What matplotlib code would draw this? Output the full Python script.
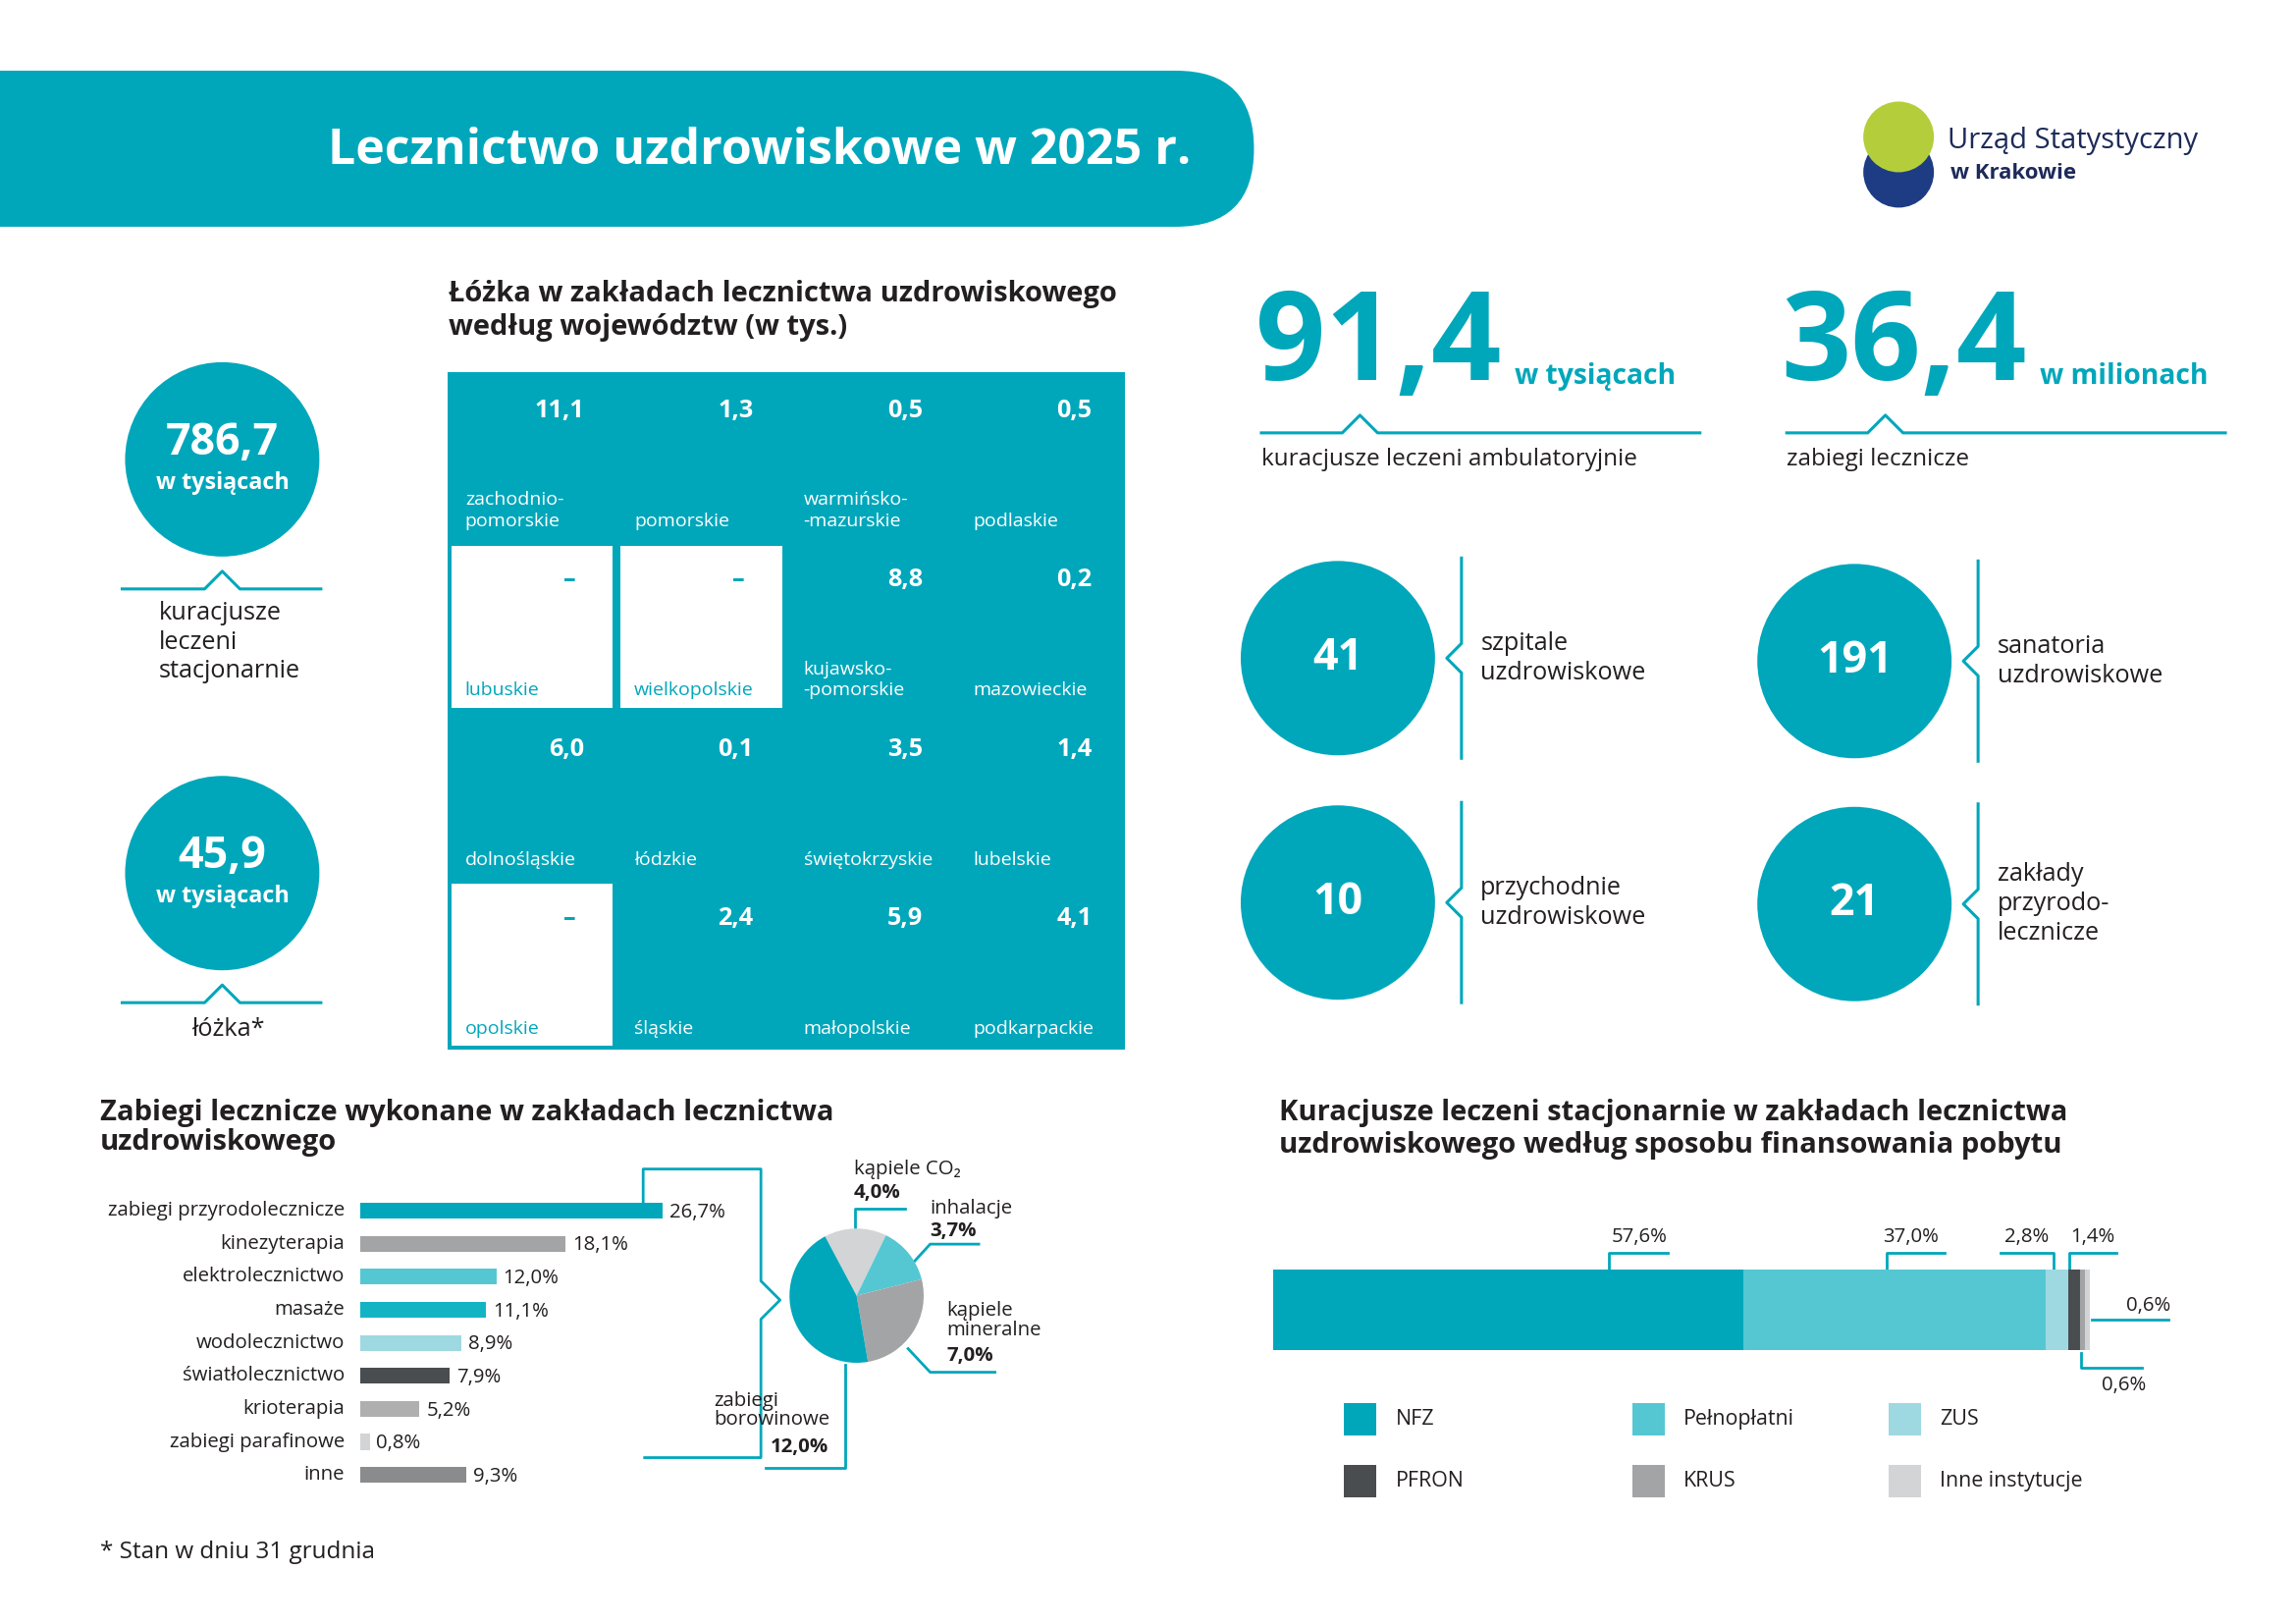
import matplotlib
matplotlib.use("Agg")
import matplotlib.pyplot as plt
from matplotlib.patches import Circle, Rectangle, FancyBboxPatch
import numpy as np

plt.rcParams['font.family'] = ['Open Sans', 'DejaVu Sans']

TEAL = '#00A7BB'; LT = '#55C7D3'; LLT = '#9ED9E2'
DG = '#4A4D4F'; G = '#A3A4A6'; LG = '#D3D4D5'; TXT = '#231F20'
S = 1.4  # font scale

# ---- data ----
tile_names = [["zachodnio-\npomorskie", "pomorskie", "warmińsko-\n-mazurskie", "podlaskie"],
              ["lubuskie", "wielkopolskie", "kujawsko-\n-pomorskie", "mazowieckie"],
              ["dolnośląskie", "łódzkie", "świętokrzyskie", "lubelskie"],
              ["opolskie", "śląskie", "małopolskie", "podkarpackie"]]
tile_values = [["11,1", "1,3", "0,5", "0,5"],
               ["–", "–", "8,8", "0,2"],
               ["6,0", "0,1", "3,5", "1,4"],
               ["–", "2,4", "5,9", "4,1"]]

bar_labels = ["zabiegi przyrodolecznicze", "kinezyterapia", "elektrolecznictwo", "masaże",
              "wodolecznictwo", "światłolecznictwo", "krioterapia", "zabiegi parafinowe", "inne"]
bar_values = [26.7, 18.1, 12.0, 11.1, 8.9, 7.9, 5.2, 0.8, 9.3]
bar_colors = [TEAL, G, LT, '#12B4C4', LLT, DG, '#AFAFB0', LG, '#8A8B8C']

pie_labels = ["kąpiele CO₂", "inhalacje", "kąpiele\nmineralne", "zabiegi\nborowinowe"]
pie_values = [4.0, 3.7, 7.0, 12.0]
pie_colors = [LG, LT, G, TEAL]

fin_labels = ["NFZ", "Pełnopłatni", "ZUS", "PFRON", "KRUS", "Inne instytucje"]
fin_values = [57.6, 37.0, 2.8, 1.4, 0.6, 0.6]
fin_colors = [TEAL, LT, LLT, DG, G, LG]

fig = plt.figure(figsize=(23.39, 16.54), dpi=100)
ax = fig.add_axes([0, 0, 1, 1])
ax.set_xlim(0, 1560); ax.set_ylim(1103, 0); ax.axis('off')

# title banner
ax.add_patch(FancyBboxPatch((-60, 48), 912, 106, boxstyle="round,pad=0,rounding_size=53",
                            fc=TEAL, ec='none'))
ax.text(516, 103, "Lecznictwo uzdrowiskowe w 2025 r.", color='white', fontsize=36,
        fontweight='bold', ha='center', va='center', family=['Open Sans', 'DejaVu Sans'])
# logo
ax.add_patch(Circle((1290, 117), 24, fc='#1D3C84', ec='none'))
ax.add_patch(Circle((1290, 93), 24, fc='#B3CE3A', ec='none'))
ax.text(1323, 96, "Urząd Statystyczny", fontsize=21, color='#1D2A5A', va='center')
ax.text(1325, 118, "w Krakowie", fontsize=16, color='#1D2A5A', va='center', fontweight='bold')

def bump_line(x0, x1, y, xn, up=True):
    d = -12 if up else 12
    ax.plot([x0, xn - 12, xn, xn + 12, x1], [y, y, y + d, y, y], color=TEAL, lw=2.2)

# left circles
for cy, val in [(312, "786,7"), (593, "45,9")]:
    ax.add_patch(Circle((151, cy), 66, fc=TEAL, ec='none'))
    ax.text(151, cy - 11, val, color='white', fontsize=23 * S, fontweight='bold', ha='center', va='center')
    ax.text(151, cy + 16, "w tysiącach", color='white', fontsize=12 * S, fontweight='bold', ha='center', va='center')
    bump_line(83, 218, cy + 88, 151)
ax.text(108, 408, "kuracjusze\nleczeni\nstacjonarnie", fontsize=13 * S, color=TXT, va='top', linespacing=1.25)
ax.text(155, 699, "łóżka*", fontsize=13 * S, color=TXT, va='center', ha='center')

# tile map
ax.text(305, 211, "Łóżka w zakładach lecznictwa uzdrowiskowego\nwedług województw (w tys.)",
        fontsize=15 * S, fontweight='bold', color=TXT, va='center', linespacing=1.2)
tx0, ty0, tw, th = 304, 253, 115, 115
ax.add_patch(Rectangle((tx0, ty0), 4 * tw, 4 * th, fc=TEAL, ec='none'))
for r in range(4):
    for c in range(4):
        x = tx0 + c * tw; y = ty0 + r * th
        empty = tile_values[r][c] == "–"
        if empty:
            ax.add_patch(Rectangle((x + 2.5, y + 2.5), tw - 5, th - 5, fc='white', ec='none'))
        col = TEAL if empty else 'white'
        ax.text(x + tw - 22 - (6 if empty else 0), y + 26, tile_values[r][c], color=col, fontsize=13 * S,
                fontweight='bold', ha='right', va='center')
        ax.text(x + 12, y + th - 8, tile_names[r][c], color=col, fontsize=10 * S, ha='left',
                va='bottom', linespacing=1.25)

# big numbers
for x0, num, unit, lab in [(857, "91,4", "w tysiącach", "kuracjusze leczeni ambulatoryjnie"),
                           (1214, "36,4", "w milionach", "zabiegi lecznicze")]:
    ax.text(x0 - 4, 236, num, color=TEAL, fontsize=90, fontweight='bold', va='center', ha='left')
    ax.text(x0 + 172, 256, unit, color=TEAL, fontsize=14.5 * S, fontweight='bold', va='center')
    bump_line(x0, x0 + 298, 294, x0 + 67)
    ax.text(x0, 312, lab, color=TXT, fontsize=12.5 * S, va='center')

for cx, cy, num, lab in [(909, 447, "41", "szpitale\nuzdrowiskowe"), (1260, 449, "191", "sanatoria\nuzdrowiskowe"),
                         (909, 613, "10", "przychodnie\nuzdrowiskowe"), (1260, 614, "21", "zakłady\nprzyrodo-\nlecznicze")]:
    ax.add_patch(Circle((cx, cy), 66, fc=TEAL, ec='none'))
    ax.text(cx, cy, num, color='white', fontsize=23 * S, fontweight='bold', ha='center', va='center')
    bx = cx + 84
    ax.plot([bx, bx, bx - 10, bx, bx], [cy - 68, cy - 10, cy, cy + 10, cy + 68], color=TEAL, lw=2.2)
    ax.text(bx + 13, cy, lab, fontsize=13 * S, color=TXT, va='center', linespacing=1.25)

# bar chart
ax.text(68, 766, "Zabiegi lecznicze wykonane w zakładach lecznictwa\nuzdrowiskowego", fontsize=15 * S,
        fontweight='bold', color=TXT, va='center', linespacing=1.05)
bax = fig.add_axes([245 / 1560, 1 - 1013 / 1103, 260 / 1560, 202 / 1103])
yy = np.arange(len(bar_values))
bax.barh(yy, bar_values, color=bar_colors, height=0.48)
bax.set_ylim(len(bar_values) - 0.5, -0.5); bax.set_xlim(0, 33.8)
bax.axis('off')
for i, (v, l) in enumerate(zip(bar_values, bar_labels)):
    bax.text(v + 0.6, i + 0.05, f"{v:.1f}%".replace('.', ','), fontsize=10.5 * S, color=TXT, va='center')
    bax.text(-1.4, i, l, fontsize=10.5 * S, color=TXT, va='center', ha='right')

# connectors to pie
ax.plot([437, 437, 517, 517, 530, 517, 517, 438], [817, 794, 794, 870, 883, 896, 990, 990], color=TEAL, lw=2)
# pie
pax = fig.add_axes([(582 - 57) / 1560, 1 - (880 + 57) / 1103, 114 / 1560, 114 / 1103])
pax.pie(pie_values, colors=pie_colors, startangle=118, counterclock=False,
        wedgeprops=dict(linewidth=0))
pax.set_aspect('equal')
ax.text(580, 794, "kąpiele CO₂", fontsize=10.5 * S, color=TXT, va='center')
ax.text(580, 810, "4,0%", fontsize=10.5 * S, color=TXT, va='center', fontweight='bold')
ax.plot([581, 581, 615], [835, 821, 821], color=TEAL, lw=2)
ax.text(632, 821, "inhalacje", fontsize=10.5 * S, color=TXT, va='center')
ax.text(632, 836, "3,7%", fontsize=10.5 * S, color=TXT, va='center', fontweight='bold')
ax.plot([621, 632, 665], [857, 845, 845], color=TEAL, lw=2)
ax.text(643, 897, "kąpiele\nmineralne", fontsize=10.5 * S, color=TXT, va='center', linespacing=0.95)
ax.text(643, 921, "7,0%", fontsize=10.5 * S, color=TXT, va='center', fontweight='bold')
ax.plot([617, 632, 676], [916, 932, 932], color=TEAL, lw=2)
ax.text(485, 958, "zabiegi\nborowinowe", fontsize=10.5 * S, color=TXT, va='center', linespacing=0.95)
ax.text(563, 983, "12,0%", fontsize=10.5 * S, color=TXT, va='center', ha='right', fontweight='bold')
ax.plot([574, 574, 520], [927, 997, 997], color=TEAL, lw=2)

# stacked financing bar
ax.text(869, 767, "Kuracjusze leczeni stacjonarnie w zakładach lecznictwa\nuzdrowiskowego według sposobu finansowania pobytu",
        fontsize=15 * S, fontweight='bold', color=TXT, va='center', linespacing=1.2)
sax = fig.add_axes([865 / 1560, 1 - 917 / 1103, 555 / 1560, 55 / 1103])
left = 0
for v, c in zip(fin_values, fin_colors):
    sax.barh(0, v, left=left, color=c, height=1.0)
    left += v
sax.set_xlim(0, 100); sax.set_ylim(-0.5, 0.5); sax.axis('off')
for x, xe, tx, t in [(1093, 1133, 1114, "57,6%"), (1282, 1321, 1298, "37,0%"), (1395, 1359, 1377, "2,8%")]:
    ax.plot([x, x, xe], [862, 851, 851], color=TEAL, lw=2)
    ax.text(tx, 840, t, fontsize=10.5 * S, color=TXT, ha='center', va='center')
ax.plot([1406, 1406, 1438], [862, 851, 851], color=TEAL, lw=2)
ax.text(1422, 840, "1,4%", fontsize=10.5 * S, color=TXT, ha='center', va='center')
ax.plot([1421, 1473], [896, 896], color=TEAL, lw=2)
ax.text(1460, 887, "0,6%", fontsize=10.5 * S, color=TXT, ha='center', va='center')
ax.plot([1414, 1414, 1455], [919, 929, 929], color=TEAL, lw=2)
ax.text(1443, 941, "0,6%", fontsize=10.5 * S, color=TXT, ha='center', va='center')
for i, (l, c) in enumerate(zip(fin_labels, fin_colors)):
    lx = [913, 1109, 1283][i % 3]; ly = [964, 1006][i // 3]
    ax.add_patch(Rectangle((lx, ly - 11), 22, 22, fc=c, ec='none'))
    ax.text(lx + 35, ly, l, fontsize=11 * S, color=TXT, va='center')

ax.text(68, 1054, "* Stan w dniu 31 grudnia", fontsize=12.5 * S, color=TXT, va='center')

fig.savefig("out.png", dpi=100, facecolor='white')
